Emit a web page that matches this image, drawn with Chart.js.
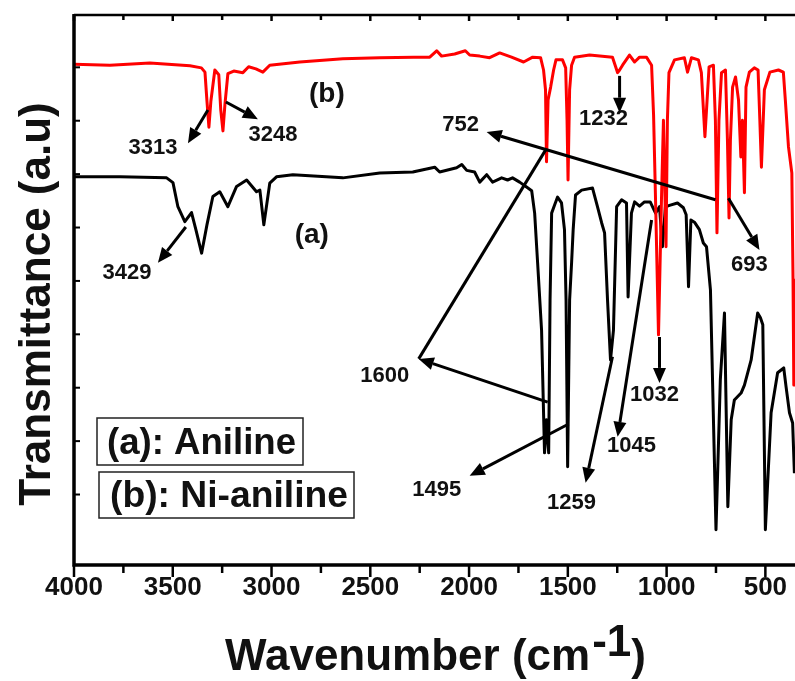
<!DOCTYPE html>
<html>
<head>
<meta charset="utf-8">
<title>FTIR - Aniline / Ni-aniline</title>
<script src="https://cdn.jsdelivr.net/npm/chart.js@4.4.1/dist/chart.umd.min.js"></script>
<style>
  html, body { margin: 0; padding: 0; background: #fff; overflow: hidden; }
  canvas { display: block; }
</style>
</head>
<body>
<canvas id="ftir" width="795" height="681"></canvas>
<script>
// Spectrum (a) Aniline: wavenumber (cm-1) and transmittance (a.u.)
const anilineWn = [4000, 3767, 3531, 3499, 3474, 3439, 3405, 3383, 3354, 3327,
  3297, 3262, 3221, 3177, 3126, 3076, 3059, 3039, 3009, 2975,
  2892, 2639, 2452, 2285, 2174, 2149, 2063, 2037, 2012, 1972,
  1946, 1911, 1881, 1835, 1805, 1780, 1744, 1709, 1683, 1668,
  1653, 1633, 1618, 1608, 1597, 1590, 1582, 1567, 1552, 1532,
  1517, 1509, 1501, 1491, 1481, 1473, 1461, 1430, 1375, 1350,
  1329, 1314, 1299, 1284, 1269, 1253, 1228, 1203, 1195, 1178,
  1162, 1137, 1112, 1083, 1056, 1036, 1021, 1006, 981, 945,
  915, 901, 889, 877, 859, 834, 814, 798, 778, 750,
  728, 707, 690, 673, 657, 623, 606, 572, 539, 525,
  513, 500, 471, 438, 407, 395, 378, 362, 353];
const anilineT = [69.5, 69.5, 69.3, 68.4, 63.9, 61.1, 62.8, 59.6, 55.2, 60.5,
  65.8, 66.7, 63.9, 67.7, 68.9, 66.7, 67.0, 60.5, 68.3, 69.5,
  69.9, 69.3, 70.2, 70.4, 71.3, 70.4, 71.2, 71.8, 70.7, 70.4,
  68.5, 69.9, 68.5, 69.3, 68.9, 69.3, 68.5, 67.6, 66.9, 62.7,
  53.4, 40.8, 17.8, 24.0, 17.8, 46.4, 62.7, 64.2, 65.7, 64.6,
  59.6, 46.4, 15.2, 46.4, 53.4, 59.6, 66.1, 67.0, 67.4, 63.9,
  60.9, 59.0, 46.4, 35.2, 40.8, 63.9, 65.2, 64.6, 47.0, 62.7,
  64.8, 64.0, 64.8, 64.8, 62.7, 63.9, 56.4, 63.9, 64.2, 64.6,
  63.7, 62.4, 48.9, 61.4, 61.0, 59.6, 57.1, 56.4, 48.3, 3.4,
  31.5, 44.0, 7.7, 24.0, 27.7, 29.0, 30.5, 35.2, 44.0, 43.1,
  41.8, 3.4, 25.3, 32.8, 33.7, 30.1, 25.3, 23.4, 14.0];

// Spectrum (b) Ni-aniline
const niWn = [4000, 3818, 3616, 3413, 3355, 3337, 3327, 3317, 3307, 3287,
  3267, 3257, 3246, 3236, 3221, 3191, 3145, 3116, 3079, 3044,
  3009, 2857, 2639, 2452, 2280, 2199, 2164, 2139, 2073, 2019,
  1997, 1946, 1896, 1845, 1785, 1724, 1678, 1638, 1623, 1613,
  1608, 1600, 1587, 1572, 1560, 1527, 1511, 1504, 1499, 1491,
  1481, 1466, 1390, 1274, 1258, 1248, 1238, 1223, 1188, 1162,
  1137, 1102, 1076, 1066, 1056, 1041, 1026, 1016, 1003, 996,
  988, 960, 910, 894, 874, 839, 824, 806, 785, 763,
  753, 745, 735, 722, 702, 692, 684, 677, 666, 651,
  636, 624, 616, 606, 598, 581, 556, 537, 528, 520,
  505, 477, 434, 409, 399, 383, 366, 360, 356, 350];
const niT = [90.6, 90.4, 90.8, 90.3, 89.9, 89.1, 83.7, 78.8, 83.7, 89.5,
  88.6, 82.0, 78.1, 83.0, 88.8, 89.3, 89.0, 90.1, 89.7, 89.1,
  90.4, 91.0, 91.6, 91.8, 91.9, 91.9, 93.1, 92.1, 92.5, 93.1,
  92.3, 92.1, 91.8, 92.7, 91.9, 91.0, 91.9, 91.8, 89.5, 85.8,
  72.3, 83.9, 86.3, 89.5, 91.4, 91.4, 89.9, 80.1, 68.9, 85.8,
  90.4, 91.9, 92.3, 91.9, 90.1, 89.0, 89.5, 90.4, 92.3, 91.0,
  91.9, 91.9, 90.4, 81.1, 65.2, 39.9, 65.2, 80.1, 56.4, 80.1,
  89.0, 91.4, 91.8, 89.1, 91.8, 91.4, 89.0, 77.0, 90.1, 90.4,
  80.1, 59.0, 80.1, 89.0, 89.5, 76.4, 61.8, 76.4, 86.3, 88.2,
  83.9, 73.2, 80.1, 66.5, 86.3, 89.1, 89.9, 89.5, 80.1, 71.3,
  85.8, 89.1, 89.5, 89.1, 83.9, 75.1, 70.2, 50.2, 30.5, 30.5];

const xTicks = [4000, 3500, 3000, 2500, 2000, 1500, 1000, 500];
const xMinorTicks = [3750, 3250, 2750, 2250, 1750, 1250, 750];
const yTicks = [10, 20, 30, 40, 50, 60, 70, 80, 90];

// curve tags and peak labels: [text, wavenumber, transmittance]
const curveTags = [['(b)', 2720, 85.0], ['(a)', 2796, 58.6]];
const peakLabels = [
  ['3313', 3600, 74.9], ['3248', 2993, 77.3], ['3429', 3732, 51.5],
  ['752', 2043, 79.2], ['1232', 1319, 80.3], ['693', 581, 53.0],
  ['1600', 2427, 32.2], ['1032', 1061, 28.7], ['1045', 1178, 19.1],
  ['1495', 2164, 10.9], ['1259', 1481, 8.4]
];
// arrows: [fromWn, fromT, toWn, toT] (head at "to")
const arrows = [
  [3322, 82.0, 3423, 75.8], [3231, 83.5, 3069, 80.3], [3434, 60.1, 3575, 53.4],
  [753, 65.2, 1911, 77.9], [687, 65.5, 530, 55.8], [1238, 88.4, 1238, 81.5],
  [1036, 39.5, 1036, 30.9], [1602, 27.3, 2255, 35.4], [1496, 23.2, 1997, 13.5],
  [1274, 35.8, 1410, 12.2], [1076, 61.4, 1248, 20.8]
];
const plainLines = [[1613, 74.5, 2255, 35.4]];
const legendItems = ['(a): Aniline', '(b): Ni-aniline'];

const FONT = "'Liberation Sans', Arial, Helvetica, sans-serif";

function toPoints(wn, t) {
  return wn.map(function (w, i) { return { x: w, y: t[i] }; });
}

function drawArrow(ctx, x1, y1, x2, y2, head) {
  const ang = Math.atan2(y2 - y1, x2 - x1);
  const len = 15, half = 6.5;
  const bx = head ? x2 - len * Math.cos(ang) : x2;
  const by = head ? y2 - len * Math.sin(ang) : y2;
  ctx.beginPath();
  ctx.moveTo(x1, y1);
  ctx.lineTo(bx, by);
  ctx.stroke();
  if (head) {
    ctx.beginPath();
    ctx.moveTo(x2, y2);
    ctx.lineTo(bx + half * Math.sin(ang), by - half * Math.cos(ang));
    ctx.lineTo(bx - half * Math.sin(ang), by + half * Math.cos(ang));
    ctx.closePath();
    ctx.fill();
  }
}

// draw text squeezed to a given width
function fitText(ctx, text, x, y, width) {
  const w = ctx.measureText(text).width;
  ctx.save();
  ctx.translate(x, y);
  ctx.scale(width / w, 1);
  ctx.fillText(text, 0, 0);
  ctx.restore();
}

const decorations = {
  id: 'decorations',
  afterDatasetsDraw(chart) {
    const ctx = chart.ctx;
    const a = chart.chartArea;
    const xs = chart.scales.x, ys = chart.scales.y;
    ctx.save();
    ctx.strokeStyle = '#000';
    ctx.fillStyle = '#000';
    ctx.lineCap = 'butt';

    // frame
    ctx.lineWidth = 3.5;
    ctx.beginPath();
    ctx.moveTo(a.left, a.top - 1);
    ctx.lineTo(a.left, a.bottom);
    ctx.lineTo(a.right, a.bottom);
    ctx.stroke();
    ctx.lineWidth = 2.5;
    ctx.beginPath();
    ctx.moveTo(a.left, a.top);
    ctx.lineTo(a.right, a.top);
    ctx.stroke();

    // tick marks
    ctx.lineWidth = 2.5;
    function seg(x1, y1, x2, y2) {
      ctx.beginPath(); ctx.moveTo(x1, y1); ctx.lineTo(x2, y2); ctx.stroke();
    }
    xTicks.forEach(function (v) {
      const px = xs.getPixelForValue(v);
      seg(px, a.bottom, px, a.bottom + 12);
      seg(px, a.top, px, a.top + 6);
    });
    xMinorTicks.forEach(function (v) {
      const px = xs.getPixelForValue(v);
      seg(px, a.bottom, px, a.bottom + 8);
      seg(px, a.top, px, a.top + 5);
    });
    ctx.lineWidth = 2;
    yTicks.forEach(function (v) {
      const py = ys.getPixelForValue(v);
      seg(a.left, py, a.left + 6, py);
    });

    // arrows
    ctx.lineWidth = 3;
    arrows.forEach(function (r) {
      drawArrow(ctx, xs.getPixelForValue(r[0]), ys.getPixelForValue(r[1]),
        xs.getPixelForValue(r[2]), ys.getPixelForValue(r[3]), true);
    });
    plainLines.forEach(function (r) {
      drawArrow(ctx, xs.getPixelForValue(r[0]), ys.getPixelForValue(r[1]),
        xs.getPixelForValue(r[2]), ys.getPixelForValue(r[3]), false);
    });

    // labels
    ctx.textAlign = 'center';
    ctx.textBaseline = 'middle';
    ctx.fillStyle = '#111';
    ctx.font = 'bold 22px ' + FONT;
    peakLabels.forEach(function (p) {
      ctx.fillText(p[0], xs.getPixelForValue(p[1]), ys.getPixelForValue(p[2]));
    });
    ctx.font = 'bold 28px ' + FONT;
    curveTags.forEach(function (p) {
      ctx.fillText(p[0], xs.getPixelForValue(p[1]), ys.getPixelForValue(p[2]));
    });

    // legend boxes
    ctx.lineWidth = 1.5;
    ctx.strokeStyle = '#222';
    ctx.strokeRect(97, 418, 206, 47);
    ctx.strokeRect(99, 472, 255, 46);
    ctx.textAlign = 'left';
    ctx.font = 'bold 36px ' + FONT;
    fitText(ctx, legendItems[0], 107, 444, 189);
    fitText(ctx, legendItems[1], 110, 497, 238);

    // axis titles
    ctx.fillStyle = '#111';
    ctx.font = 'bold 44px ' + FONT;
    ctx.save();
    ctx.translate(38, 304);
    ctx.rotate(-Math.PI / 2);
    ctx.textAlign = 'center';
    ctx.fillText('Transmittance (a.u)', 0, 0);
    ctx.restore();

    ctx.textAlign = 'left';
    ctx.textBaseline = 'alphabetic';
    const t1 = 'Wavenumber (cm', t2 = '-1', t3 = ')';
    const w1 = ctx.measureText(t1).width, w2 = ctx.measureText(t2).width, w3 = ctx.measureText(t3).width;
    let sx = (a.left + a.right) / 2 - (w1 + w2 + w3) / 2;
    ctx.fillText(t1, sx, 670);
    ctx.fillText(t2, sx + w1 + 2, 656);
    ctx.fillText(t3, sx + w1 + w2 + 2, 670);
    ctx.restore();
  }
};

const ctx = document.getElementById('ftir').getContext('2d');
const chart = new Chart(ctx, {
  type: 'line',
  data: {
    datasets: [
      {
        label: '(b): Ni-aniline',
        data: toPoints(niWn, niT),
        borderColor: '#ff0000',
        borderWidth: 3,
        pointRadius: 0,
        tension: 0,
        borderJoinStyle: 'round'
      },
      {
        label: '(a): Aniline',
        data: toPoints(anilineWn, anilineT),
        borderColor: '#000000',
        borderWidth: 3,
        pointRadius: 0,
        tension: 0,
        borderJoinStyle: 'round'
      }
    ]
  },
  options: {
    responsive: false,
    animation: false,
    devicePixelRatio: 1,
    layout: { padding: { top: 15, right: 0, bottom: 0, left: 0 }, autoPadding: false },
    scales: {
      x: {
        type: 'linear',
        reverse: true,
        min: 350,
        max: 4000,
        afterFit: function (s) { s.height = 116; },
        afterBuildTicks: function (s) { s.ticks = xTicks.map(function (v) { return { value: v }; }); },
        grid: { display: false, drawTicks: false },
        border: { display: false },
        ticks: {
          autoSkip: false,
          maxRotation: 0,
          padding: 7,
          color: '#111',
          font: { family: FONT, size: 26, weight: 'bold' },
          callback: function (v) { return String(v); }
        }
      },
      y: {
        min: -3.2,
        max: 99.8,
        afterFit: function (s) { s.width = 74; },
        grid: { display: false, drawTicks: false },
        border: { display: false },
        ticks: { display: false }
      }
    },
    plugins: {
      legend: { display: false },
      tooltip: { enabled: false }
    }
  },
  plugins: [decorations]
});
</script>
</body>
</html>
